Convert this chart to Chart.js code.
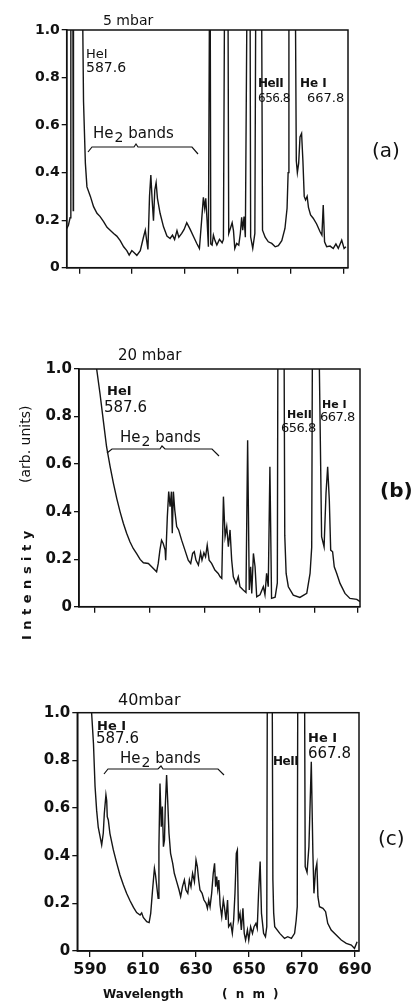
<!DOCTYPE html>
<html>
<head>
<meta charset="utf-8">
<script src="https://cdn.jsdelivr.net/npm/chart.js@4.4.0/dist/chart.umd.min.js"></script>
<style>
  html, body { margin: 0; padding: 0; background: #fff; }
  #wrap { position: relative; width: 411px; height: 1002px; overflow: hidden; }
  canvas { position: absolute; left: 0; }
</style>
</head>
<body>
<div id="wrap">
  <canvas id="panel-a" width="411" height="330" style="top:0"></canvas>
  <canvas id="panel-b" width="411" height="330" style="top:330px"></canvas>
  <canvas id="panel-c" width="411" height="342" style="top:660px"></canvas>
</div>
<script>
// Emission spectra, wavelength (nm) and intensity (arb. units).
// Values above 1 are saturated lines that run off the top of the frame.
const WL_A = [585.3, 585.9, 586.5, 586.8, 587.5, 587.7, 587.8, 590.8, 591.6, 592.3, 592.9, 594.2, 595.4, 596.7, 597.9, 599.2,
  600.5, 601.7, 603.0, 604.2, 605.5, 606.8, 608.0, 608.9, 609.9, 610.8, 611.8, 613.1, 614.3, 615.0, 615.5, 616.0,
  616.6, 617.1, 617.6, 618.1, 618.6, 619.1, 619.6, 620.6, 621.9, 623.2, 624.4, 625.3, 626.1, 627.0, 627.7, 628.8,
  629.7, 630.7, 632.0, 633.3, 634.5, 635.5, 636.3, 637.0, 637.5, 637.9, 638.4, 638.9, 639.5, 639.8, 640.3, 640.8,
  641.4, 642.1, 643.1, 644.1, 644.6, 645.2, 646.2, 646.6, 647.1, 647.9, 648.4, 648.9, 649.6, 650.4, 651.0, 651.5,
  651.9, 652.4, 652.9, 653.8, 654.6, 654.9, 655.7, 656.5, 657.0, 658.9, 659.4, 660.4, 661.6, 662.9, 664.2, 665.4,
  666.7, 667.9, 668.7, 669.1, 669.4, 671.6, 672.2, 672.6, 673.1, 673.6, 674.2, 674.7, 675.2, 675.7, 676.3, 676.8,
  677.6, 678.6, 679.9, 681.2, 681.9, 682.4, 682.9, 683.7, 685.0, 686.2, 687.2, 688.1, 689.4, 690.3, 691.0];
const INT_A = [0.165, 0.18, 0.21, 1.6, 1.6, 0.24, 1.6, 1.6, 0.7, 0.44, 0.34, 0.30, 0.257, 0.229, 0.215, 0.194,
  0.17, 0.158, 0.144, 0.133, 0.114, 0.088, 0.072, 0.053, 0.072, 0.063, 0.052, 0.072, 0.128, 0.158, 0.116, 0.077,
  0.30, 0.39, 0.285, 0.198, 0.327, 0.358, 0.292, 0.229, 0.172, 0.133, 0.123, 0.137, 0.119, 0.156, 0.128, 0.144,
  0.161, 0.189, 0.161, 0.130, 0.102, 0.081, 0.194, 0.296, 0.25, 0.292, 0.2, 0.088, 1.6, 0.1, 0.095, 0.137,
  0.114, 0.095, 0.119, 0.105, 0.119, 1.6, 1.6, 0.144, 0.161, 0.189, 0.156, 0.081, 0.102, 0.095, 0.144, 0.212,
  0.158, 0.215, 0.128, 1.6, 1.6, 0.13, 0.081, 0.144, 1.6, 1.6, 0.158, 0.128, 0.109, 0.102, 0.088, 0.093,
  0.114, 0.165, 0.25, 0.40, 1.6, 1.6, 0.45, 0.40, 0.44, 0.55, 0.565, 0.45, 0.30, 0.285, 0.30, 0.254,
  0.222, 0.208, 0.184, 0.151, 0.137, 0.264, 0.109, 0.088, 0.091, 0.081, 0.1, 0.081, 0.116, 0.081, 0.088];

const WL_B = [589.8, 590.6, 591.8, 593.0, 594.2, 595.5, 596.7, 597.9, 599.1, 600.3, 601.5, 602.7, 603.9, 605.2, 606.4, 607.6,
  609.4, 610.6, 612.4, 613.0, 613.6, 614.2, 614.8, 615.5, 615.7, 616.3, 616.8, 617.3, 617.8, 618.1, 618.5, 619.0,
  619.7, 620.4, 621.5, 622.7, 623.9, 624.8, 625.5, 626.1, 626.7, 627.6, 628.4, 628.9, 629.6, 630.2, 630.8, 631.5,
  632.4, 633.6, 634.8, 635.5, 636.1, 636.7, 637.3, 637.9, 638.5, 639.1, 639.7, 640.3, 641.3, 642.1, 642.7, 643.9,
  644.9, 645.5, 646.1, 646.6, 647.0, 647.6, 648.2, 648.8, 650.0, 651.2, 651.8, 652.4, 653.0, 653.6, 654.2, 655.5,
  656.3, 656.6, 658.6, 659.0, 659.5, 660.3, 662.1, 664.5, 667.0, 668.2, 668.8, 669.2, 670.9, 672.4, 673.3, 674.0,
  674.6, 675.2, 675.7, 676.4, 677.0, 677.9, 679.1, 680.9, 682.7, 685.2, 686.4];
const INT_B = [1.6, 1.0, 0.898, 0.785, 0.673, 0.589, 0.519, 0.456, 0.40, 0.351, 0.309, 0.273, 0.245, 0.222, 0.199, 0.185,
  0.182, 0.168, 0.147, 0.182, 0.238, 0.28, 0.266, 0.238, 0.196, 0.379, 0.484, 0.421, 0.484, 0.309, 0.484, 0.407,
  0.337, 0.323, 0.28, 0.238, 0.196, 0.182, 0.224, 0.231, 0.196, 0.175, 0.227, 0.196, 0.227, 0.21, 0.259, 0.196,
  0.182, 0.154, 0.14, 0.126, 0.119, 0.463, 0.295, 0.337, 0.252, 0.323, 0.196, 0.126, 0.098, 0.126, 0.084, 0.07,
  0.06, 0.70, 0.07, 0.168, 0.056, 0.224, 0.168, 0.042, 0.05, 0.084, 0.05, 0.14, 0.084, 0.589, 0.035, 0.04,
  0.1, 1.6, 1.6, 0.3, 0.14, 0.084, 0.049, 0.039, 0.056, 0.14, 0.25, 1.6, 1.6, 0.295, 0.252, 0.477,
  0.589, 0.449, 0.238, 0.231, 0.168, 0.14, 0.098, 0.056, 0.035, 0.031, 0.021];

const WL_C = [590.2, 590.6, 591.3, 591.9, 592.5, 593.1, 593.8, 594.4, 595.0, 595.4, 596.0, 596.3, 596.5, 596.9, 597.5, 598.8,
  600.1, 601.3, 602.6, 603.8, 605.1, 606.4, 607.6, 608.9, 609.5, 610.1, 611.4, 612.3, 612.9, 613.6, 614.3, 614.7,
  615.2, 615.7, 616.0, 616.4, 616.9, 617.3, 617.7, 618.1, 618.4, 618.9, 619.3, 619.8, 620.4, 621.2, 621.8, 622.7,
  623.6, 624.2, 624.9, 625.6, 626.2, 626.9, 627.5, 628.1, 628.7, 629.4, 630.0, 630.5, 631.0, 631.5, 632.3, 633.0,
  633.8, 634.3, 634.8, 635.3, 635.9, 636.5, 637.0, 637.4, 637.8, 638.2, 638.6, 639.1, 639.7, 640.3, 640.7, 641.3,
  641.9, 642.3, 643.1, 643.7, 644.2, 644.7, 645.2, 645.6, 646.0, 646.6, 647.1, 647.7, 648.2, 648.7, 649.4, 649.9,
  650.6, 651.3, 651.9, 652.6, 653.1, 653.6, 654.2, 654.7, 655.5, 656.2, 656.7, 657.0, 658.6, 659.0, 659.3, 659.7,
  661.6, 663.4, 664.6, 666.0, 667.2, 667.8, 668.2, 668.5, 670.8, 671.2, 671.9, 672.6, 673.5, 674.1, 674.5, 675.1,
  675.6, 676.0, 676.6, 677.9, 678.9, 679.7, 681.0, 682.9, 684.8, 686.7, 688.6, 689.8, 690.8];
const INT_C = [1.6, 1.0, 0.871, 0.69, 0.59, 0.52, 0.48, 0.445, 0.494, 0.578, 0.655, 0.63, 0.564, 0.55, 0.494, 0.424,
  0.368, 0.319, 0.277, 0.242, 0.211, 0.183, 0.161, 0.151, 0.16, 0.141, 0.123, 0.119, 0.158, 0.256, 0.347, 0.32,
  0.27, 0.221, 0.438, 0.703, 0.522, 0.606, 0.438, 0.466, 0.606, 0.738, 0.634, 0.494, 0.41, 0.368, 0.326, 0.291,
  0.256, 0.228, 0.27, 0.298, 0.256, 0.242, 0.298, 0.27, 0.326, 0.291, 0.382, 0.354, 0.298, 0.256, 0.242, 0.214,
  0.2, 0.179, 0.214, 0.186, 0.242, 0.326, 0.368, 0.27, 0.312, 0.26, 0.298, 0.193, 0.144, 0.214, 0.186, 0.13,
  0.214, 0.102, 0.116, 0.074, 0.13, 0.242, 0.41, 0.424, 0.13, 0.158, 0.088, 0.179, 0.074, 0.046, 0.088, 0.046,
  0.102, 0.074, 0.102, 0.116, 0.095, 0.242, 0.375, 0.158, 0.074, 0.06, 0.102, 1.6, 1.6, 0.3, 0.16, 0.102,
  0.074, 0.053, 0.06, 0.053, 0.074, 0.13, 0.186, 1.6, 1.6, 0.354, 0.33, 0.438, 0.794, 0.41, 0.242, 0.34,
  0.368, 0.228, 0.186, 0.179, 0.165, 0.116, 0.088, 0.067, 0.046, 0.032, 0.025, 0.011, 0.039];

const TICKS_Y   = [0, 0.2, 0.4, 0.6, 0.8, 1.0];
const TICKS_X   = [590, 610, 630, 650, 670, 690];
const TICKS_X_B = [590, 610, 630, 650, 670, 685.5];

const FONT = '"DejaVu Sans", Verdana, sans-serif';

// Text drawn on each canvas (canvas pixel coordinates, alphabetic baseline).
const NOTES = {
    'panel-a': {
        texts: [
            { t: '5 mbar', x: 103, y: 25, f: '14px' },
            { t: 'HeI', x: 86, y: 58, f: '13px' },
            { t: '587.6', x: 86, y: 72, f: '14px' },
            { t: 'HeII', x: 258, y: 87, f: 'bold 12px', ls: '-0.5px' },
            { t: '656.8', x: 258, y: 102, f: '12px', ls: '-0.5px' },
            { t: 'He I', x: 300, y: 87, f: 'bold 12px' },
            { t: '667.8', x: 307, y: 102, f: '13px' },
            { t: '(a)', x: 372, y: 157, f: '20px' }
        ],
        bands: { x: 93, y: 138, s: 15 },
        bracket: [[88, 152], [92, 147], [134, 147], [136, 144], [138, 147], [192, 147], [198, 154]]
    },
    'panel-b': {
        texts: [
            { t: '20 mbar', x: 118, y: 30, f: '15px' },
            { t: 'HeI', x: 107, y: 65, f: 'bold 13px' },
            { t: '587.6', x: 104, y: 82, f: '15px' },
            { t: 'HeII', x: 287, y: 88, f: 'bold 11px' },
            { t: '656.8', x: 281, y: 102, f: '13px', ls: '-0.5px' },
            { t: 'He I', x: 322, y: 78, f: 'bold 11px' },
            { t: '667.8', x: 320, y: 91, f: '13px', ls: '-0.5px' },
            { t: '(b)', x: 380, y: 167, f: 'bold 20px' }
        ],
        bands: { x: 120, y: 112, s: 15 },
        bracket: [[107, 123], [112, 119], [160, 119], [162, 116], [165, 119], [212, 119], [219, 126]],
        ytitle: true
    },
    'panel-c': {
        texts: [
            { t: '40mbar', x: 118, y: 45, f: '16px' },
            { t: 'He I', x: 97, y: 70, f: 'bold 13px' },
            { t: '587.6', x: 96, y: 83, f: '15px' },
            { t: 'HeII', x: 273, y: 105, f: 'bold 12px', ls: '-0.5px' },
            { t: 'He I', x: 308, y: 82, f: 'bold 13px' },
            { t: '667.8', x: 308, y: 98, f: '15px' },
            { t: '(c)', x: 378, y: 185, f: '20px' },
            { t: 'Wavelength', x: 103, y: 338, f: 'bold 12px' },
            { t: '( n m )', x: 222, y: 338, f: 'bold 12px', ls: '2px' }
        ],
        bands: { x: 120, y: 103, s: 15 },
        bracket: [[104, 114], [108, 109], [158, 109], [161, 106], [163, 109], [218, 109], [224, 115]]
    }
};

const notesPlugin = {
    id: 'notes',
    afterDraw(chart) {
        const ctx = chart.ctx, a = chart.chartArea;
        const note = NOTES[chart.canvas.id];
        ctx.save();
        // closed frame round the plot
        ctx.strokeStyle = '#111';
        ctx.lineWidth = 1.5;
        ctx.strokeRect(a.left, a.top, a.right - a.left, a.bottom - a.top);

        ctx.fillStyle = '#111';
        ctx.textBaseline = 'alphabetic';
        for (let n of note.texts) {
            ctx.font = `${n.f} ${FONT}`;
            ctx.letterSpacing = n.ls || '0px';
            ctx.fillText(n.t, n.x, n.y);
        }
        ctx.letterSpacing = '0px';

        // "He2 bands" with the subscript
        const b = note.bands;
        ctx.font = `${b.s}px ${FONT}`;
        ctx.fillText('He', b.x, b.y);
        let w = ctx.measureText('He').width;
        ctx.font = `${b.s - 1}px ${FONT}`;
        ctx.fillText('2', b.x + w + 1, b.y + 4);
        w += ctx.measureText('2').width + 1;
        ctx.font = `${b.s}px ${FONT}`;
        ctx.fillText(' bands', b.x + w, b.y);

        ctx.beginPath();
        ctx.lineWidth = 1.2;
        note.bracket.forEach(([x, y], i) => i ? ctx.lineTo(x, y) : ctx.moveTo(x, y));
        ctx.stroke();

        if (note.ytitle) {
            ctx.translate(31, 0);
            ctx.rotate(-Math.PI / 2);
            ctx.font = `bold 13px ${FONT}`;
            ctx.letterSpacing = '5.5px';
            ctx.fillText('Intensity', -310, 0);
            ctx.letterSpacing = '0px';
            ctx.font = `14px ${FONT}`;
            ctx.fillText('(arb. units)', -153, -1);
        }
        ctx.restore();
    }
};

const makePanel = (id, wl, vals, xmin, xmax, xticks, box) => new Chart(document.getElementById(id), {
    type: 'line',
    data: {
        datasets: [{
            data: wl.map((x, i) => ({ x, y: vals[i] })),
            borderColor: '#151515',
            borderWidth: 1.4,
            pointRadius: 0,
            tension: 0,
            fill: false
        }]
    },
    options: {
        responsive: false,
        animation: false,
        devicePixelRatio: 1,
        layout: { padding: { left: 0, top: box.top, right: box.right, bottom: box.bottom } },
        plugins: { legend: { display: false }, tooltip: { enabled: false } },
        scales: {
            x: {
                type: 'linear',
                min: xmin,
                max: xmax,
                afterBuildTicks: s => { s.ticks = xticks.map(v => ({ value: v })); },
                afterFit: s => { s.height = box.xh; },
                grid: { drawOnChartArea: false, drawTicks: true, tickLength: 6, color: '#111', lineWidth: 1.3 },
                border: { display: true, color: '#111', width: 1.5 },
                ticks: {
                    display: box.xlabels,
                    autoSkip: false,
                    maxRotation: 0,
                    padding: 3,
                    color: '#111',
                    font: { family: FONT, size: 16, weight: 'bold' },
                    callback: v => String(v)
                }
            },
            y: {
                min: 0,
                max: 1,
                afterBuildTicks: s => { s.ticks = TICKS_Y.map(v => ({ value: v })); },
                afterFit: s => { s.width = box.left; },
                grid: { drawOnChartArea: false, drawTicks: true, tickLength: 5, color: '#111', lineWidth: 1.3 },
                border: { display: true, color: '#111', width: 1.5 },
                ticks: {
                    padding: 2,
                    color: '#111',
                    font: { family: FONT, size: box.ysize, weight: 'bold' },
                    callback: v => v === 0 ? '0' : v.toFixed(1)
                }
            }
        }
    },
    plugins: [notesPlugin]
});

makePanel('panel-a', WL_A, INT_A, 585.23, 691.78, TICKS_X,
    { left: 66.7, top: 30, right: 63, bottom: 42.3, xh: 20, xlabels: false, ysize: 14 });
makePanel('panel-b', WL_B, INT_B, 584.18, 686.36, TICKS_X_B,
    { left: 79, top: 39, right: 51, bottom: 33.3, xh: 20, xlabels: false, ysize: 15 });
makePanel('panel-c', WL_C, INT_C, 585.2, 691.5, TICKS_X,
    { left: 77.3, top: 52.7, right: 52, bottom: 21, xh: 30, xlabels: true, ysize: 15 });
</script>
</body>
</html>
